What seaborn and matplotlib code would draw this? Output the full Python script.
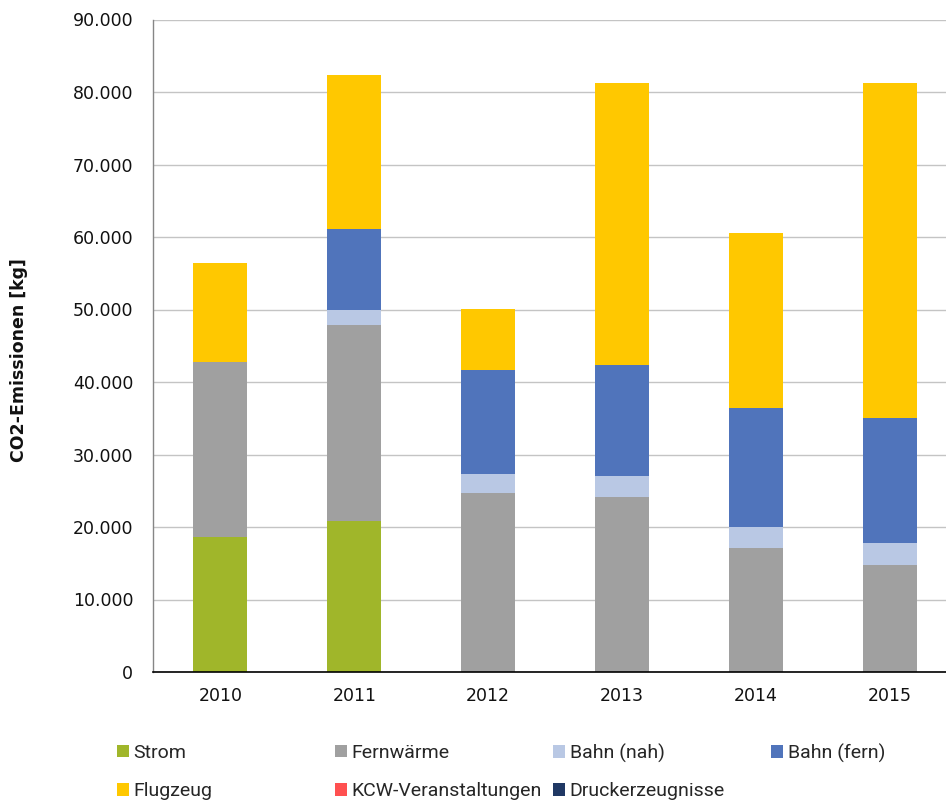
import matplotlib
matplotlib.use("Agg")
import matplotlib.pyplot as plt
from matplotlib.patches import Patch
from matplotlib.ticker import FuncFormatter, FixedLocator
import numpy as np
import pandas as pd
import seaborn as sns

# CO2 emissions per year and source, in kg
years = ["2010", "2011", "2012", "2013", "2014", "2015"]
categories = ["Strom", "Fernwärme", "Bahn (nah)", "Bahn (fern)", "Flugzeug",
              "KCW-Veranstaltungen", "Druckerzeugnisse"]
strom = [18600, 20850, 0, 0, 0, 0]
fernwaerme = [24200, 27050, 24650, 24200, 17050, 14700]
bahn_nah = [0, 2050, 2650, 2800, 2950, 3100]
bahn_fern = [0, 11200, 14300, 15400, 16450, 17300]
flugzeug = [13650, 21150, 8500, 38800, 24150, 46200]
kcw = [0, 0, 0, 0, 0, 0]
druck = [0, 0, 0, 0, 0, 0]
y_ticks = [0, 10000, 20000, 30000, 40000, 50000, 60000, 70000, 80000, 90000]

colors = ["#A0B62A", "#A0A0A0", "#B9C8E4", "#5074BB", "#FFC800",
          "#FF5050", "#203864"]

series = [strom, fernwaerme, bahn_nah, bahn_fern, flugzeug, kcw, druck]
df = pd.DataFrame(
    [(y, c, v) for c, vals in zip(categories, series) for y, v in zip(years, vals)],
    columns=["Jahr", "Quelle", "Wert"],
)

sns.set_style("white")
plt.rcParams["font.family"] = ["DejaVu Sans"]

W, H = 946, 802
fig = plt.figure(figsize=(W / 100, H / 100), dpi=100)
left, right, top, bottom = 153.4, 956.8, 19.5, 672
ax = fig.add_axes([left / W, 1 - bottom / H, (right - left) / W, (bottom - top) / H])

# stacked bars: each source sits on the running total of the ones below
base = np.zeros(len(years))
for cat, col in zip(categories, colors):
    sub = df[df["Quelle"] == cat]
    sns.barplot(data=sub, x="Jahr", y="Wert", order=years, color=col,
                saturation=1, width=0.403, errorbar=None, linewidth=0,
                bottom=base.copy(), ax=ax)
    base += sub.set_index("Jahr").loc[years, "Wert"].to_numpy()

ax.set_xlim(-0.5, len(years) - 0.5)
ax.set_ylim(0, 90000)
ax.yaxis.set_major_locator(FixedLocator(y_ticks))
ax.yaxis.set_major_formatter(FuncFormatter(lambda v, p: f"{int(v):,}".replace(",", ".")))
ax.set_xlabel("")
ax.set_ylabel("")

ax.yaxis.grid(True, color="#C4C4C4", linewidth=1.0)
ax.xaxis.grid(False)
ax.set_axisbelow(True)

for s in ["top", "right"]:
    ax.spines[s].set_visible(False)
ax.spines["left"].set_color("#868686")
ax.spines["left"].set_linewidth(1.0)
ax.spines["bottom"].set_color("#000000")
ax.spines["bottom"].set_linewidth(1.2)

ax.set_xticks(np.arange(-0.5, len(years)), minor=True)
ax.tick_params(axis="x", which="major", length=0, pad=11, labelsize=12.5,
               labelcolor="#111111")
ax.tick_params(axis="x", which="minor", length=4.5, width=1.0, color="#868686",
               direction="out")
ax.tick_params(axis="y", which="major", length=5, width=1.0, color="#868686",
               direction="out", pad=9.5, labelsize=12.5, labelcolor="#111111")

fig.text(19 / W, 1 - 360 / H, "CO2-Emissionen [kg]", rotation=90,
         ha="center", va="center", fontsize=12.5, fontweight="bold",
         color="#111111")

# legend entries placed on a fixed grid below the plot
legend_pos = [
    (117, 753), (335, 753), (553, 753), (771, 753),
    (117, 791.5), (335, 791.5), (553, 791.5),
]
for cat, col, (lx, ly) in zip(categories, colors, legend_pos):
    fig.legend(handles=[Patch(facecolor=col, edgecolor="none", label=cat)],
               loc="center left", bbox_to_anchor=(lx / W, 1 - ly / H),
               frameon=False, borderpad=0, borderaxespad=0,
               handlelength=0.6, handleheight=0.6, handletextpad=0.26,
               prop={"family": "Roboto", "size": 14})

fig.savefig("out.png", dpi=100)
